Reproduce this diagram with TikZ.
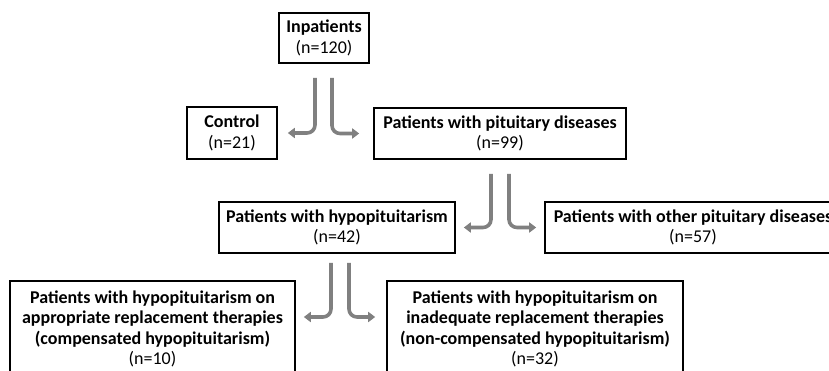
\documentclass[tikz,border=0pt]{standalone}
\usepackage{fontspec}
\setmainfont{Carlito}
\usetikzlibrary{arrows.meta,calc}
\begin{document}
\begin{tikzpicture}[x=1pt,y=-1pt,
  box/.style={draw=black,line width=1.6pt,align=center,inner sep=0pt,
    font=\fontsize{18}{20.5}\selectfont},
  arr/.style={draw=gray,line width=3.6pt,rounded corners=8pt,
    -{Triangle[length=7pt,width=10pt]}}]
\clip (0,0) rectangle (829,371);
\node[box,minimum width=90,minimum height=50] (in) at (324,38) {\textbf{Inpatients}\\(n=120)};
\node[box,minimum width=90,minimum height=52] (ctrl) at (232,133) {\textbf{Control}\\(n=21)};
\node[box,minimum width=252,minimum height=51] (pit) at (500,133.5) {\textbf{Patients with pituitary diseases}\\(n=99)};
\node[box,minimum width=236,minimum height=51] (hypo) at (337,227.5) {\textbf{Patients with hypopituitarism}\\(n=42)};
\node[box,minimum width=296,minimum height=51] (oth) at (693,227.5) {\textbf{Patients with other pituitary diseases}\\(n=57)};
\node[box,anchor=north,minimum width=285,minimum height=110,inner ysep=10pt] (bl) at (152.5,280)
  {\textbf{Patients with hypopituitarism on}\\\textbf{appropriate replacement therapies}\\\textbf{(compensated hypopituitarism)}\\(n=10)\\[30pt]};
\node[box,anchor=north,minimum width=296,minimum height=110,inner ysep=10pt] (br) at (535,280)
  {\textbf{Patients with hypopituitarism on}\\\textbf{inadequate replacement therapies}\\\textbf{(non-compensated hypopituitarism)}\\(n=32)\\[30pt]};
% connector end points
\coordinate (a1) at ($(in.south)+(-9,14)$);
\coordinate (a2) at ($(in.south)+(8,14)$);
\coordinate (b1) at ($(pit.south)+(-9,14)$);
\coordinate (b2) at ($(pit.south)+(9,14)$);
\coordinate (c1) at ($(hypo.south)+(-6,9)$);
\coordinate (c2) at ($(hypo.south)+(12,9)$);
\coordinate (ce1) at ($(bl.north east)+(8,37)$);
\coordinate (ce2) at ($(br.north west)+(-11,37)$);
\draw[arr] (a1) |- ([xshift=10pt]ctrl.east);
\draw[arr] (a2) |- ([xshift=-14pt]pit.west);
\draw[arr] (b1) |- ([xshift=8pt]hypo.east);
\draw[arr] (b2) |- ([xshift=-8pt]oth.west);
\draw[arr] (c1) |- (ce1);
\draw[arr] (c2) |- (ce2);
\end{tikzpicture}
\end{document}
